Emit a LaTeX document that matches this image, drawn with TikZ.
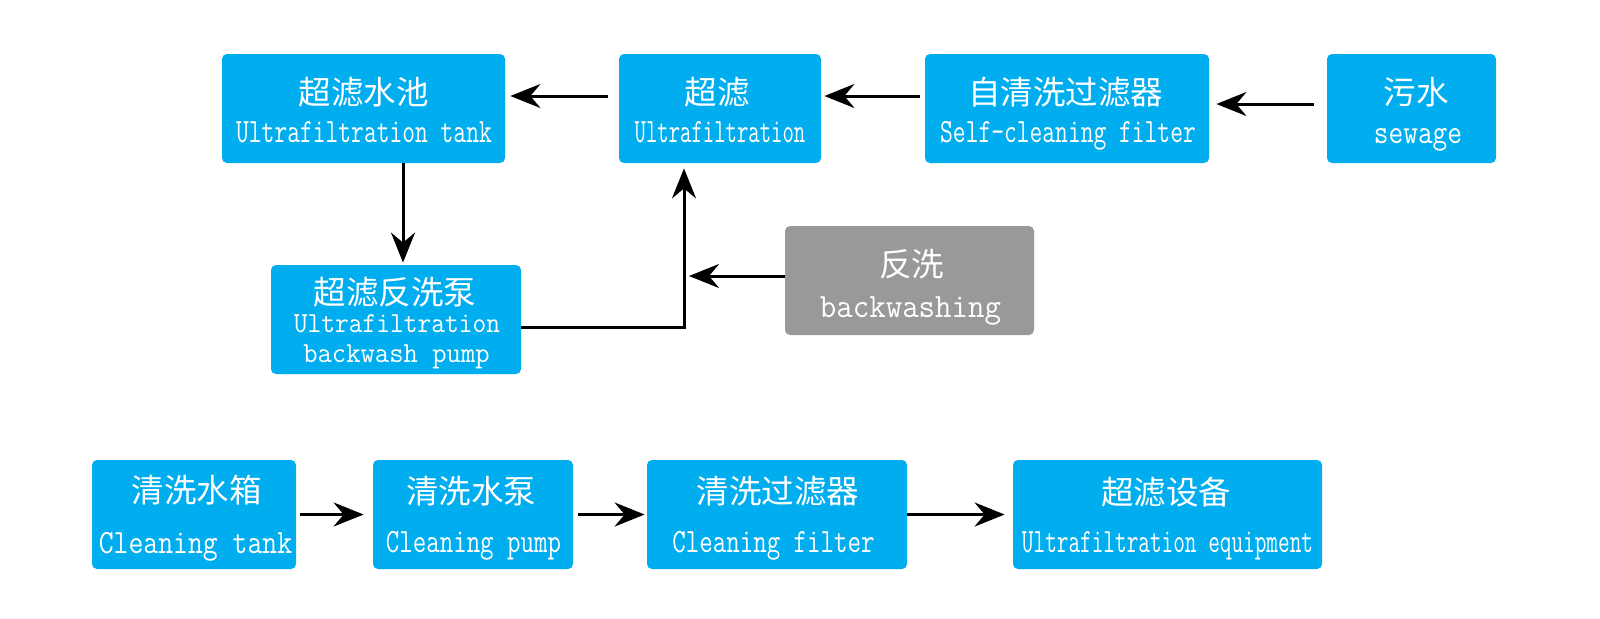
\documentclass[tikz,border=0pt]{standalone}
\usepackage{graphicx}
\usepackage{fontspec}
\newfontfamily\zhfont{Noto Sans CJK SC}
\usetikzlibrary{arrows.meta}
\definecolor{ufblue}{RGB}{0,174,239}
\definecolor{bwgray}{RGB}{153,153,153}
\newcommand\squeeze[2]{\scalebox{#1}[1]{#2}}
\tikzset{
  bluebox/.style={fill=ufblue, rounded corners=2.5pt, inner sep=0pt, minimum height=54.5pt},
  graybox/.style={bluebox, fill=bwgray},
  zh/.style={font=\zhfont\fontsize{16.25pt}{16.25pt}\selectfont, text=white, anchor=base, inner sep=0pt},
  en/.style={font=\ttfamily\fontsize{17pt}{17pt}\selectfont, text=white, anchor=base, inner sep=0pt},
  ensmall/.style={en, font=\ttfamily\fontsize{14.5pt}{14.5pt}\selectfont},
  flow/.style={line width=1.5pt, -{Stealth[length=15pt,width=12pt,inset=5pt]}}
}
\begin{document}
\begin{tikzpicture}[x=0.5pt, y=-0.5pt]
\useasboundingbox (0,0) rectangle (1600,618);
\fill[white] (0,0) rectangle (1600,618);
% top row
   \node[bluebox, minimum width=141.5pt] at (363.5,108.5) (uftank) {};
   \node[zh] at (363.5,104.5) (uftank-zh) {超滤水池};
   \node[en] at (364,142) (uftank-en) {\squeeze{0.73}{Ultrafiltration tank}};
   \node[bluebox, minimum width=101pt] at (720,108.5) (uf) {};
   \node[zh] at (717,104.5) (uf-zh) {超滤};
   \node[en] at (720,142) (uf-en) {\squeeze{0.65}{Ultrafiltration}};
   \node[bluebox, minimum width=142pt] at (1067,108.5) (scfilter) {};
   \node[zh] at (1065.5,104.5) (scfilter-zh) {自清洗过滤器};
   \node[en] at (1068,142) (scfilter-en) {\squeeze{0.73}{Self-cleaning filter}};
   \node[bluebox, minimum width=84.5pt] at (1411.5,108.5) (sewage) {};
   \node[zh] at (1416,104) (sewage-zh) {污水};
   \node[en] at (1418,143) (sewage-en) {\squeeze{0.84}{sewage}};
% backwash branch
   \node[bluebox, minimum width=125pt] at (396,319.5) (bwpump) {};
   \node[zh] at (395,304) (bwpump-zh) {超滤反洗泵};
   \node[ensmall] at (397,332) (bwpump-en) {\squeeze{0.92}{Ultrafiltration}};
   \node[ensmall] at (396.5,362) (bwpump-en2) {\squeeze{0.96}{backwash pump}};
   \node[graybox, minimum width=124.5pt] at (909.5,280.5) (backwash) {};
   \node[zh] at (911.5,276) (backwash-zh) {反洗};
   \node[en] at (910.5,317) (backwash-en) {\squeeze{0.94}{backwashing}};
% cleaning row
   \node[bluebox, minimum width=102pt] at (194,514.5) (cltank) {};
   \node[zh] at (196.5,502) (cltank-zh) {清洗水箱};
   \node[en] at (195.5,553) (cltank-en) {\squeeze{0.85}{Cleaning tank}};
   \node[bluebox, minimum width=100pt] at (473,514.5) (clpump) {};
   \node[zh] at (471,503) (clpump-zh) {清洗水泵};
   \node[en] at (473.5,552) (clpump-en) {\squeeze{0.77}{Cleaning pump}};
   \node[bluebox, minimum width=130pt] at (777,514.5) (clfilter) {};
   \node[zh] at (778,503) (clfilter-zh) {清洗过滤器};
   \node[en] at (773.5,552) (clfilter-en) {\squeeze{0.77}{Cleaning filter}};
   \node[bluebox, minimum width=154.5pt] at (1167.5,514.5) (ufequip) {};
   \node[zh] at (1166,504) (ufequip-zh) {超滤设备};
   \node[en] at (1167.5,552) (ufequip-en) {\squeeze{0.665}{Ultrafiltration equipment}};
% connectors
   \coordinate (pumpin) at ([xshift=3.5pt]bwpump.north);
   \coordinate (ufin) at ([xshift=-18pt]uf.south);
   \coordinate (bwout) at ([yshift=2.25pt]backwash.west);
   \draw[flow, shorten <=6.5pt, shorten >=3.5pt] ([yshift=2.25pt]sewage.west) -- ([yshift=2.25pt]scfilter.east);
   \draw[flow, shorten <=2.5pt, shorten >=1.5pt] ([yshift=6.25pt]scfilter.west) -- ([yshift=6.25pt]uf.east);
   \draw[flow, shorten <=5.5pt, shorten >=2.5pt] ([yshift=6.25pt]uf.west) -- ([yshift=6.25pt]uftank.east);
   \draw[flow, shorten >=1pt] (uftank.south -| pumpin) -- (pumpin);
   \draw[flow, shorten >=2.5pt] ([yshift=-3.75pt]bwpump.east) -| (ufin);
   \draw[flow, shorten >=2.5pt] (bwout) -- (bwout -| ufin);
   \draw[flow, shorten <=2pt, shorten >=4.5pt] (cltank) -- (clpump);
   \draw[flow, shorten <=2.5pt, shorten >=1pt] (clpump) -- (clfilter);
   \draw[flow, shorten >=4pt] (clfilter) -- (ufequip);
\end{tikzpicture}
\end{document}
